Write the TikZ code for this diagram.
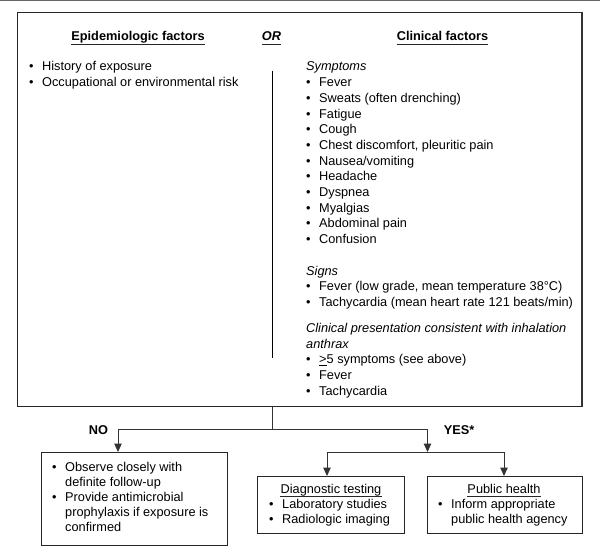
\documentclass[tikz,border=0pt]{standalone}
\usepackage{fontspec}
\setmainfont{Liberation Sans}
\usetikzlibrary{arrows.meta}
\newcommand\bitem[1]{\makebox[13bp][l]{•}#1}
\tikzset{
  txt/.style={inner sep=0pt, anchor=base west, font=\fontsize{12.8}{15}\selectfont},
  hdr/.style={inner sep=0pt, anchor=base, font=\fontsize{12.8}{15}\selectfont\bfseries},
  sub/.style={inner sep=0pt, anchor=base, font=\fontsize{12.8}{15}\selectfont},
  frame/.style={draw=black!85, line width=1pt, inner sep=0pt, anchor=north west},
  conn/.style={draw=black!80, line width=1pt},
  arr/.style={conn, -{Triangle[width=7.5pt,length=8.5pt]}},
  uline/.style={draw=black!85, line width=0.9pt},
}
\begin{document}
\begin{tikzpicture}[x=1bp,y=-1bp]
\useasboundingbox (0,0) rectangle (600,557);
\draw[draw=black!60, line width=1.5pt] (0,0.75) -- (600,0.75);
% main frame
\node[frame, minimum width=564bp, minimum height=393.7bp] (main) at (17,12) {};
\draw[draw=black!80, line width=2pt] (main.north east) -- (main.south east);
% headers
\node[hdr] (h1) at (138,41) {Epidemiologic factors};
\node[hdr, font=\fontsize{12.8}{15}\selectfont\bfseries\itshape] (hor) at (271.5,41) {OR};
\node[hdr] (h3) at (442.5,41) {Clinical factors};
\foreach \n in {h1,hor,h3}
  \draw[uline] ([yshift=-3.5bp]\n.base west) -- ([yshift=-3.5bp]\n.base east);
% divider
\node[inner sep=0pt] (dtop) at (272.5,70) {};
\node[inner sep=0pt] (dbot) at (272.5,359) {};
\draw[line width=0.9pt] (dtop) -- (dbot);
% left column
\node[txt] (l1) at (29,71) {\bitem{History of exposure}};
\node[txt] (l2) at (29,86.7) {\bitem{Occupational or environmental risk}};
% right column
\node[txt] (r0) at (306,71) {\itshape Symptoms};
\node[txt] (r1) at (306,86.7) {\bitem{Fever}};
\node[txt] (r2) at (306,102.4) {\bitem{Sweats (often drenching)}};
\node[txt] (r3) at (306,118.1) {\bitem{Fatigue}};
\node[txt] (r4) at (306,133.8) {\bitem{Cough}};
\node[txt] (r5) at (306,149.5) {\bitem{Chest discomfort, pleuritic pain}};
\node[txt] (r6) at (306,165.2) {\bitem{Nausea/vomiting}};
\node[txt] (r7) at (306,180.9) {\bitem{Headache}};
\node[txt] (r8) at (306,196.6) {\bitem{Dyspnea}};
\node[txt] (r9) at (306,212.3) {\bitem{Myalgias}};
\node[txt] (r10) at (306,228) {\bitem{Abdominal pain}};
\node[txt] (r11) at (306,243.7) {\bitem{Confusion}};
\node[txt] (s0) at (306,275) {\itshape Signs};
\node[txt] (s1) at (306,290.7) {\bitem{Fever (low grade, mean temperature 38°C)}};
\node[txt] (s2) at (306,306.4) {\bitem{Tachycardia (mean heart rate 121 beats/min)}};
\node[txt] (c0) at (306,332.5) {\itshape Clinical presentation consistent with inhalation};
\node[txt] (c1) at (306,348.2) {\itshape anthrax};
\node[txt] (c2) at (306,363.9) {\bitem{\underline{>}5 symptoms (see above)}};
\node[txt] (c3) at (306,379.6) {\bitem{Fever}};
\node[txt] (c4) at (306,395.3) {\bitem{Tachycardia}};
% lower boxes
\node[frame, minimum width=186bp, minimum height=93bp] (nobox) at (41,452) {};
\node[frame, minimum width=147bp, minimum height=57bp] (diag) at (257,476) {};
\node[frame, minimum width=155bp, minimum height=57bp] (pub) at (427,476) {};
% labels
\node[hdr] (no) at (98.5,434.5) {NO};
\node[hdr] (yes) at (459,434.5) {YES*};
% connectors
\coordinate (j1) at (272.5,429);
\coordinate (jl) at (118,429);
\coordinate (jr) at (427.5,429);
\coordinate (j2) at (427.5,452);
\coordinate (j2l) at (327,452);
\coordinate (j2r) at (504,452);
\draw[conn] (j1 |- main.south) -- (j1);
\draw[conn] (jl) -- (jr);
\draw[arr] (jl) -- (jl |- nobox.north);
\draw[arr] (jr) -- (j2);
\draw[conn] (j2l) -- (j2r);
\draw[arr] (j2l) -- (j2l |- diag.north);
\draw[arr] (j2r) -- (j2r |- pub.north);
% NO box text
\node[txt] (n1) at (52,471.5) {\bitem{Observe closely with}};
\node[txt] (n2) at (65,486.5) {definite follow-up};
\node[txt] (n3) at (52,501.5) {\bitem{Provide antimicrobial}};
\node[txt] (n4) at (65,516.5) {prophylaxis if exposure is};
\node[txt] (n5) at (65,531.5) {confirmed};
% diagnostic box text
\node[sub] (dt) at (331,493.5) {Diagnostic testing};
\draw[uline, line width=0.8pt] ([yshift=-3bp]dt.base west) -- ([yshift=-3bp]dt.base east);
\node[txt] (d1) at (269,508.5) {\bitem{Laboratory studies}};
\node[txt] (d2) at (269,523) {\bitem{Radiologic imaging}};
% public health box text
\node[sub] (pt) at (504,493.5) {Public health};
\draw[uline, line width=0.8pt] ([yshift=-3bp]pt.base west) -- ([yshift=-3bp]pt.base east);
\node[txt] (p1) at (438,508.5) {\bitem{Inform appropriate}};
\node[txt] (p2) at (451,523) {public health agency};
\end{tikzpicture}
\end{document}
